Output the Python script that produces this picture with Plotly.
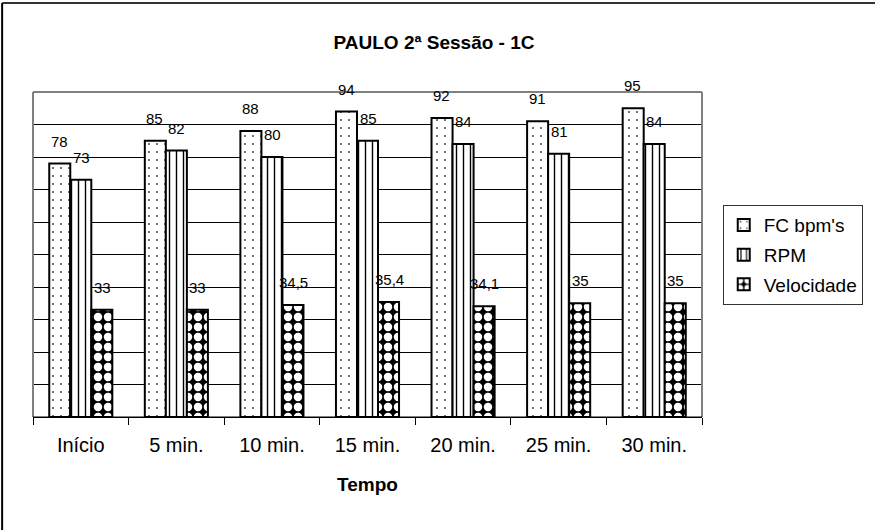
import plotly.graph_objects as go

categories = ["Início", "5 min.", "10 min.", "15 min.", "20 min.", "25 min.", "30 min."]
fc_bpm = [78, 85, 88, 94, 92, 91, 95]
rpm = [73, 82, 80, 85, 84, 81, 84]
velocidade = [33, 33, 34.5, 35.4, 34.1, 35, 35]

def fmt(v):
    return ("%g" % v).replace(".", ",")

font = "Liberation Sans, Arial, sans-serif"

fig = go.Figure()
fig.add_trace(go.Bar(
    name="FC bpm's", x=categories, y=fc_bpm, legendgroup="a",
    marker=dict(color="white", line=dict(color="black", width=2),
                pattern=dict(shape=".", fgcolor="#555555", bgcolor="white", size=8,
                             solidity=0.06, fgopacity=1)),
))
fig.add_trace(go.Bar(
    name="RPM", x=categories, y=rpm, legendgroup="b",
    marker=dict(color="white", line=dict(color="black", width=2),
                pattern=dict(shape="|", fgcolor="black", bgcolor="white", size=7,
                             solidity=0.2, fgopacity=1)),
))
fig.add_trace(go.Bar(
    name="Velocidade", x=categories, y=velocidade, legendgroup="c",
    marker=dict(color="black", line=dict(color="black", width=2),
                pattern=dict(shape=".", fgcolor="white", bgcolor="black", size=10,
                             solidity=0.56, fgopacity=1)),
))

annotations = []
for vals, shift in ((fc_bpm, -21.5), (rpm, 0.5), (velocidade, 21.5)):
    for c, v in zip(categories, vals):
        annotations.append(dict(x=c, y=v, text=fmt(v), showarrow=False, xshift=shift,
                                yanchor="bottom", yshift=12,
                                font=dict(family=font, size=15, color="black")))

fig.update_layout(
    width=875, height=530,
    margin=dict(l=33, r=875 - 33 - 672, t=92, b=530 - 92 - 325),
    paper_bgcolor="white", plot_bgcolor="white",
    barmode="group", bargap=0.34, bargroupgap=0,
    font=dict(family=font, size=20, color="black"),
    title=dict(text="<b>PAULO 2ª Sessão - 1C</b>", x=434 / 875, xanchor="center",
               xref="container", y=1 - 42 / 530, yref="container", yanchor="middle",
               font=dict(size=19)),
    showlegend=True,
    legend=dict(x=1.031, y=0.652, xanchor="left", yanchor="top",
                bordercolor="#333333", borderwidth=1, bgcolor="white",
                font=dict(size=19), tracegroupgap=2, itemwidth=30),
    xaxis=dict(showline=True, linecolor="black", linewidth=1, ticks="outside",
               tickson="boundaries", ticklen=7, tickcolor="black", ticklabelstandoff=10,
               title=dict(text="<b>Tempo</b>", standoff=22, font=dict(size=19)),
               tickfont=dict(size=20)),
    yaxis=dict(range=[0, 100], dtick=10, showgrid=True, gridcolor="black", gridwidth=1,
               showticklabels=False, zeroline=False, showline=False),
    annotations=annotations,
    shapes=[
        dict(type="line", xref="paper", yref="paper", x0=0, x1=0, y0=0, y1=1,
             line=dict(color="#808080", width=2)),
        dict(type="line", xref="paper", yref="paper", x0=0, x1=1, y0=1, y1=1,
             line=dict(color="#808080", width=2)),
        dict(type="line", xref="paper", yref="paper", x0=1, x1=1, y0=0, y1=1,
             line=dict(color="#808080", width=2)),
        dict(type="line", xref="paper", yref="paper", x0=0, x1=1, y0=0, y1=0,
             line=dict(color="black", width=1)),
        dict(type="line", xref="paper", yref="paper", x0=-31 / 672, x1=1 + 200 / 672,
             y0=1 + 89 / 325, y1=1 + 89 / 325, line=dict(color="#333333", width=2)),
        dict(type="line", xref="paper", yref="paper", x0=-31 / 672, x1=-31 / 672,
             y0=1 + 89 / 325, y1=-130 / 325, line=dict(color="black", width=2)),
    ],
)

fig.write_html("out.html", config={"displayModeBar": False},
               post_script="document.body.style.margin='0';")
